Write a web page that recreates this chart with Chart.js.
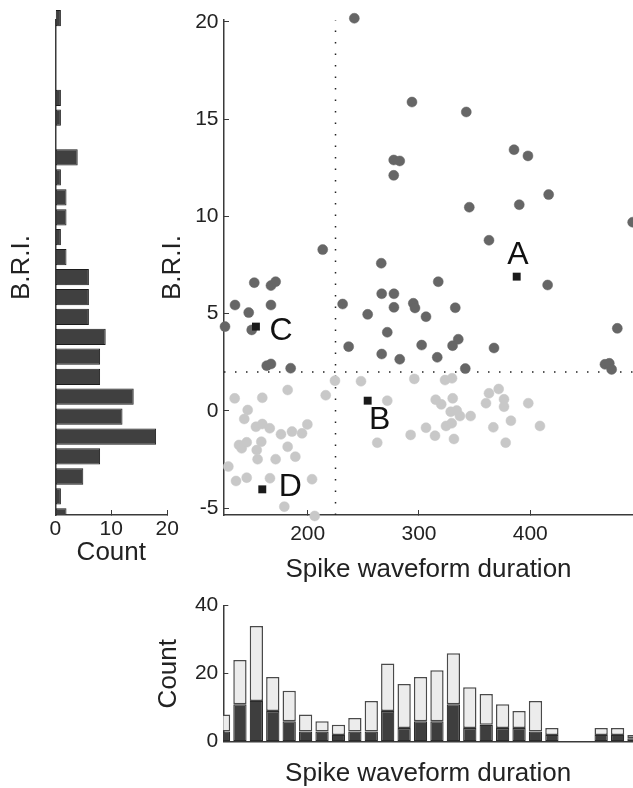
<!DOCTYPE html>
<html>
<head>
<meta charset="utf-8">
<title>B.R.I. vs spike waveform duration</title>
<script src="https://cdn.jsdelivr.net/npm/chart.js@4.4.1/dist/chart.umd.min.js"></script>
<style>
    html, body { margin: 0; padding: 0; background: #ffffff; }
    #wrap { position: relative; width: 633px; height: 788px; overflow: hidden; }
    #wrap canvas { position: absolute; left: 0; top: 0; }
</style>
</head>
<body>
<div id="wrap">
    <canvas id="sideHist" width="633" height="788"></canvas>
    <canvas id="scatter" width="633" height="788"></canvas>
    <canvas id="bottomHist" width="633" height="788"></canvas>
</div>
<script>
// ---- data ----
const briTicks = [-5, 0, 5, 10, 15, 20];
const durationTicks = [200, 300, 400];
const sideCountTicks = [0, 10, 20];
const bottomCountTicks = [0, 20, 40];

const durationThreshold = 225;
const briThreshold = 2;

// cells above the B.R.I. threshold (dark dots)
const highDuration = [241.9, 293.7, 342.5, 277.3, 282.7, 277.3, 385.4, 397.9, 416.5, 345.2, 390.1, 492.0, 362.9,
    213.5, 266.1, 152.0, 167.0, 171.2, 134.7, 167.0, 147.0, 125.7, 149.7, 163.2, 167.0, 184.7, 317.3, 266.5, 277.5,
    231.4, 277.5, 294.9, 296.4, 253.9, 306.3, 332.6, 271.5, 236.8, 302.4, 330.2, 335.3, 266.5, 282.7, 316.4, 341.6,
    367.4, 415.6, 478.2, 467.1, 471.0, 473.1];
const highBri = [20.19, 15.88, 15.37, 12.90, 12.85, 12.11, 13.43, 13.11, 11.12, 10.47, 10.60, 9.70, 8.77,
    8.29, 7.59, 6.59, 6.44, 6.64, 5.44, 5.44, 5.05, 4.33, 4.16, 2.32, 2.41, 2.19, 6.64, 6.02, 6.02,
    5.49, 5.32, 5.53, 5.29, 4.96, 4.84, 5.30, 4.04, 3.30, 3.38, 3.35, 3.68, 2.92, 2.65, 2.75, 2.17,
    3.23, 6.47, 4.24, 2.39, 2.44, 2.13];

// cells below the B.R.I. threshold (light dots)
const lowDuration = [224.5, 216.2, 247.9, 182.0, 134.4, 159.2, 146.1, 143.0, 153.5, 159.2, 165.9, 176.0, 185.9,
    194.9, 199.7, 138.3, 140.7, 145.2, 158.3, 154.2, 155.0, 171.2, 182.0, 188.9, 128.7, 135.6, 145.2, 166.1,
    203.9, 179.0, 206.3, 262.5, 271.5, 292.5, 295.8, 306.3, 314.4, 315.0, 320.0, 323.4, 329.7, 330.3, 324.3,
    329.4, 328.5, 333.9, 336.8, 331.4, 346.4, 360.2, 362.9, 371.6, 366.8, 376.4, 376.4, 377.9, 382.6, 398.2, 408.7];
const lowBri = [1.55, 0.80, 1.52, 1.07, 0.64, 0.67, 0.04, -0.42, -0.82, -0.68, -0.90, -1.21, -1.07,
    -1.16, -0.70, -1.76, -1.93, -1.62, -1.59, -2.02, -2.49, -2.49, -1.85, -2.36, -2.87, -3.61, -3.44, -3.47,
    -3.52, -4.93, -5.41, -1.64, 0.52, -1.24, 1.64, -0.87, -1.28, 0.57, 0.33, 1.58, 1.67, 0.64, -0.78,
    -0.64, -0.05, 0.01, -0.27, -1.45, -0.27, 0.39, 0.90, 1.12, -0.85, 0.59, 0.21, -1.64, -0.51, 0.39, -0.78];

// example cells
const exampleNames = ['A', 'B', 'C', 'D'];
const exampleDuration = [387.8, 253.9, 153.5, 159.2];
const exampleBri = [6.90, 0.52, 4.33, -4.04];

// B.R.I. histogram (left)
const briBinCenters = [20.2, 19.18, 18.15, 17.13, 16.1, 15.08, 14.05, 13.03, 12.0, 10.98, 9.95, 8.93, 7.9,
    6.88, 5.85, 4.83, 3.8, 2.78, 1.75, 0.73, -0.3, -1.33, -2.35, -3.38, -4.4, -5.43];
const briCounts = [1, 0, 0, 0, 1, 1, 0, 4, 1, 2, 2, 1, 2, 6, 6, 6, 9, 8, 8, 14, 12, 18, 8, 5, 1, 2];

// duration histogram (bottom), stacked
const durationBinCenters = [125, 140, 155, 170, 185, 200, 215, 230, 245, 260, 275, 290, 305,
    320, 335, 350, 365, 380, 395, 410, 425, 440, 455, 470, 485, 500];
const darkCounts = [3, 11, 12, 9, 6, 3, 3, 2, 3, 3, 9, 4, 6, 6, 11, 4, 5, 4, 4, 3, 2, 0, 0, 2, 2, 1];
const lightCounts = [5, 13, 22, 10, 9, 5, 3, 3, 4, 9, 14, 13, 13, 15, 15, 12, 9, 7, 5, 9, 2, 0, 0, 2, 2, 1];

// ---- styling ----
const briMin = -5.36, briMax = 20.1;
const durMin = 124.8, durMax = 492.3;
const AXIS = '#3a3a3a';
const TEXT = '#222222';
const TITLE_FONT = { size: 26, lineHeight: 1.1 };
const TICK_FONT = { size: 21 };

Chart.defaults.font.family = "'Liberation Sans', Arial, Helvetica, sans-serif";
Chart.defaults.color = TEXT;
Chart.defaults.animation = false;
Chart.defaults.responsive = false;
Chart.defaults.plugins.legend.display = false;
Chart.defaults.plugins.tooltip.enabled = false;

// fixed axis sizes, so every plot area sits where the figure has it
const fixWidth = w => s => { s.width = w; s.paddingTop = 0; s.paddingBottom = 0; };
const fixHeight = h => s => { s.height = h; s.paddingLeft = 0; s.paddingRight = 0; };
const useTicks = list => s => { s.ticks = list.map(v => ({ value: v })); };

const inwardTicks = { display: true, drawOnChartArea: false, drawTicks: true, tickLength: -5, color: AXIS, lineWidth: 1 };
const noGrid = { display: false };
const axisBorder = { display: true, color: AXIS, width: 1.5 };

const pairs = (xs, ys) => xs.map((x, i) => ({ x, y: ys[i] }));

// letters next to the example cells
const exampleLabels = {
    id: 'exampleLabels',
    afterDatasetsDraw(chart, args, opts) {
        const { ctx, scales: { x, y } } = chart;
        ctx.save();
        ctx.font = opts.font;
        ctx.fillStyle = opts.color;
        ctx.textAlign = 'center';
        ctx.textBaseline = 'middle';
        exampleNames.forEach((name, i) => {
            const off = opts.offsets[name];
            ctx.fillText(name, x.getPixelForValue(exampleDuration[i]) + off[0], y.getPixelForValue(exampleBri[i]) + off[1]);
        });
        ctx.restore();
    }
};

// ---- left: B.R.I. histogram ----
new Chart(document.getElementById('sideHist'), {
    type: 'bar',
    data: {
        datasets: [{
            data: pairs(briCounts, briBinCenters),
            backgroundColor: '#404040',
            borderColor: '#1c1c1c',
            borderWidth: 1,
            borderSkipped: false,
            barPercentage: 0.82,
            categoryPercentage: 1,
            clip: { left: 0, right: false, top: false, bottom: 0 }
        }]
    },
    options: {
        indexAxis: 'y',
        layout: { autoPadding: false, padding: { left: 0, top: 20, right: 633 - 167.3, bottom: 788 - 515 - 60 } },
        scales: {
            y: {
                type: 'linear', offset: false, min: briMin, max: briMax,
                afterBuildTicks: useTicks(briTicks),
                afterFit: fixWidth(55.3),
                ticks: { display: false },
                grid: noGrid, border: axisBorder,
                title: { display: true, text: 'B.R.I.', font: TITLE_FONT, padding: { top: 7.4, bottom: 0 } }
            },
            x: {
                type: 'linear', min: 0, max: 20,
                afterBuildTicks: useTicks(sideCountTicks),
                afterFit: fixHeight(60),
                ticks: { font: TICK_FONT, padding: 7, maxRotation: 0 },
                grid: inwardTicks, border: axisBorder,
                title: { display: true, text: 'Count', font: TITLE_FONT, padding: { top: 0, bottom: 7.5 } }
            }
        }
    }
});

// ---- main scatter ----
new Chart(document.getElementById('scatter'), {
    type: 'scatter',
    data: {
        datasets: [
            {
                data: pairs(exampleDuration, exampleBri),
                pointStyle: 'rect', pointRadius: 5.6, borderWidth: 0,
                backgroundColor: '#1a1a1a', clip: false
            },
            {
                data: pairs(highDuration, highBri),
                pointRadius: 5, borderWidth: 0.5,
                backgroundColor: '#666666', borderColor: '#666666', clip: false
            },
            {
                data: pairs(lowDuration, lowBri),
                pointRadius: 5, borderWidth: 0.5,
                backgroundColor: '#c8c8c8', borderColor: '#c8c8c8', clip: false
            },
            {
                data: [{ x: durationThreshold, y: briMin }, { x: durationThreshold, y: briMax }],
                showLine: true, pointRadius: 0, borderColor: '#222222', borderWidth: 1.5,
                borderDash: [1.5, 10], clip: false
            },
            {
                data: [{ x: durMin, y: briThreshold }, { x: durMax, y: briThreshold }],
                showLine: true, pointRadius: 0, borderColor: '#222222', borderWidth: 1.5,
                borderDash: [1.5, 9.5], clip: false
            }
        ]
    },
    options: {
        layout: { autoPadding: false, padding: { left: 0, top: 20, right: 0, bottom: 788 - 515 - 75 } },
        scales: {
            x: {
                type: 'linear', min: durMin, max: durMax,
                afterBuildTicks: useTicks(durationTicks),
                afterFit: fixHeight(75),
                ticks: { font: TICK_FONT, padding: 11.9, maxRotation: 0 },
                grid: inwardTicks, border: axisBorder,
                title: { display: true, text: 'Spike waveform duration', font: TITLE_FONT, padding: { top: 0, bottom: 5.4 } }
            },
            y: {
                type: 'linear', min: briMin, max: briMax,
                afterBuildTicks: useTicks(briTicks),
                afterFit: fixWidth(224),
                ticks: { font: TICK_FONT, padding: 10.5 },
                grid: inwardTicks, border: axisBorder,
                title: { display: true, text: 'B.R.I.', font: TITLE_FONT, padding: { top: 159, bottom: 0 } }
            }
        },
        plugins: {
            exampleLabels: {
                font: "32px 'Liberation Sans', Arial, sans-serif",
                color: '#111111',
                offsets: { A: [1.3, -21.7], B: [12, 19], C: [25, 5], D: [28, -2] }
            }
        }
    },
    plugins: [exampleLabels]
});

// ---- bottom: duration histogram ----
new Chart(document.getElementById('bottomHist'), {
    type: 'bar',
    data: {
        datasets: [
            {
                data: pairs(durationBinCenters, darkCounts),
                backgroundColor: '#3e3e3e', borderColor: '#2a2a2a', borderWidth: 1.2,
                borderSkipped: false, barPercentage: 0.81, categoryPercentage: 1
            },
            {
                data: pairs(durationBinCenters, lightCounts),
                backgroundColor: '#ececec', borderColor: '#4a4a4a', borderWidth: 1.5,
                borderSkipped: false, barPercentage: 0.81, categoryPercentage: 1
            }
        ]
    },
    options: {
        layout: { autoPadding: false, padding: { left: 0, top: 605.7, right: 0, bottom: 0 } },
        scales: {
            x: {
                type: 'linear', offset: false, stacked: true, min: 124.8, max: 499.1,
                afterBuildTicks: useTicks(durationBinCenters),
                afterFit: fixHeight(788 - 741.7),
                ticks: { display: false },
                grid: noGrid, border: axisBorder,
                title: { display: true, text: 'Spike waveform duration', font: TITLE_FONT, padding: { top: 0, bottom: 0 } }
            },
            y: {
                type: 'linear', stacked: true, min: 0, max: 40,
                afterBuildTicks: useTicks(bottomCountTicks),
                afterFit: fixWidth(223.3),
                ticks: { font: TICK_FONT, padding: 10 },
                grid: inwardTicks, border: axisBorder,
                title: { display: true, text: 'Count', font: TITLE_FONT, padding: { top: 154.7, bottom: 0 } }
            }
        }
    }
});
</script>
</body>
</html>
